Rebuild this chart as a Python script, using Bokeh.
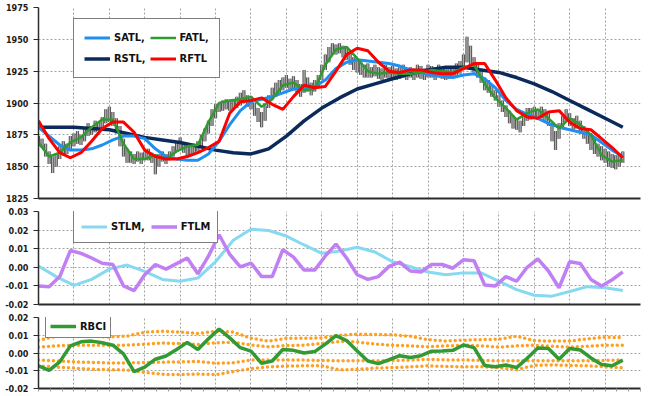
import numpy as np
from bokeh.plotting import figure
from bokeh.layouts import column
from bokeh.models import Range1d, FixedTicker, PrintfTickFormatter, Legend, LegendItem
from bokeh.embed import file_html
from bokeh.resources import INLINE

FONT = "DejaVu Sans Condensed"

# ---------------- data ----------------
# price bars (one per bar index)
price_high = [
    1874, 1872, 1868, 1862, 1858, 1860, 1866, 1870, 1868, 1874,
    1876, 1878, 1875, 1880, 1884, 1882, 1886, 1885, 1889, 1895,
    1897, 1893, 1888, 1882, 1872, 1864, 1862, 1860, 1862, 1861,
    1862, 1864, 1861, 1858, 1860, 1862, 1860, 1862, 1866, 1870,
    1873, 1869, 1867, 1866, 1868, 1870, 1875, 1880, 1886, 1895,
    1899, 1900, 1902, 1903, 1902, 1903, 1905, 1908, 1910, 1906,
    1905, 1900, 1896, 1893, 1898, 1906, 1912, 1916, 1918, 1920,
    1922, 1919, 1921, 1918, 1915, 1926, 1920, 1916, 1918, 1922,
    1930, 1938, 1944, 1947, 1946, 1947, 1945, 1944, 1940, 1936,
    1934, 1932, 1930, 1931, 1928, 1930, 1928, 1927, 1930, 1928,
    1929, 1927, 1928, 1930, 1927, 1928, 1927, 1930, 1929, 1927,
    1930, 1929, 1928, 1930, 1928, 1927, 1929, 1928, 1931, 1933,
    1938, 1952, 1945, 1936, 1932, 1926, 1920, 1918, 1914, 1910,
    1906, 1902, 1898, 1894, 1890, 1888, 1886, 1892, 1896, 1896,
    1897, 1895, 1897, 1895, 1892, 1884, 1878, 1884, 1890, 1895,
    1892, 1888, 1890, 1886, 1882, 1879, 1876, 1872, 1868, 1866,
    1864, 1862, 1860, 1859, 1860, 1862]
price_low = [
    1866, 1865, 1858, 1852, 1845, 1850, 1856, 1859, 1860, 1863,
    1866, 1868, 1867, 1870, 1874, 1875, 1877, 1879, 1880, 1884,
    1885, 1882, 1876, 1866, 1858, 1853, 1853, 1852, 1854, 1852,
    1855, 1855, 1853, 1844, 1850, 1854, 1852, 1855, 1858, 1862,
    1864, 1861, 1858, 1859, 1860, 1862, 1865, 1870, 1876, 1882,
    1888, 1893, 1894, 1895, 1894, 1895, 1896, 1898, 1900, 1897,
    1895, 1890, 1885, 1881, 1886, 1896, 1903, 1905, 1908, 1910,
    1912, 1911, 1910, 1908, 1905, 1908, 1909, 1906, 1909, 1912,
    1918, 1926, 1932, 1938, 1938, 1939, 1936, 1934, 1930, 1926,
    1924, 1922, 1920, 1920, 1920, 1921, 1919, 1918, 1920, 1919,
    1919, 1918, 1919, 1920, 1918, 1920, 1918, 1920, 1919, 1918,
    1920, 1920, 1918, 1920, 1919, 1918, 1919, 1920, 1921, 1923,
    1926, 1932, 1930, 1924, 1920, 1916, 1910, 1908, 1905, 1902,
    1897, 1893, 1889, 1884, 1880, 1879, 1877, 1882, 1886, 1887,
    1889, 1887, 1888, 1886, 1882, 1870, 1863, 1872, 1880, 1885,
    1882, 1879, 1880, 1876, 1872, 1868, 1863, 1860, 1858, 1855,
    1853, 1850, 1849, 1848, 1850, 1853]

# fast filters: one value every 3 bars
satl = [1881, 1874, 1867, 1863, 1863, 1864, 1867, 1871, 1874, 1874,
        1872, 1864, 1858, 1856, 1855, 1855, 1860, 1870, 1883, 1894,
        1901, 1903, 1905, 1908, 1911, 1912, 1913, 1918, 1927, 1932,
        1934, 1933, 1932, 1931, 1929, 1926, 1924, 1922, 1921, 1920,
        1922, 1923, 1919, 1912, 1902, 1895, 1891, 1888, 1884, 1881,
        1879, 1877, 1875, 1869, 1863, 1858]
fatl = [1869, 1858, 1861, 1869, 1873, 1881, 1887, 1887, 1868, 1856,
        1856, 1859, 1856, 1862, 1866, 1867, 1885, 1900, 1902, 1903,
        1905, 1897, 1903, 1914, 1916, 1910, 1911, 1930, 1942, 1944,
        1935, 1925, 1923, 1924, 1923, 1923, 1924, 1926, 1925, 1924,
        1928, 1930, 1915, 1904, 1896, 1887, 1892, 1895, 1888, 1880,
        1888, 1883, 1875, 1859, 1854, 1855]
rftl = [1886, 1872, 1861, 1857, 1861, 1870, 1880, 1885, 1885, 1877,
        1863, 1858, 1856, 1856, 1858, 1861, 1865, 1870, 1892, 1901,
        1902, 1904, 1899, 1895, 1905, 1914, 1912, 1913, 1925, 1938,
        1943, 1941, 1932, 1925, 1924, 1926, 1926, 1924, 1923, 1923,
        1927, 1931, 1931, 1918, 1904, 1894, 1889, 1888, 1893, 1894,
        1885, 1880, 1879, 1872, 1865, 1857]
ftlm = [-0.0100, -0.0105, -0.0050, 0.0090, 0.0075, 0.0050, 0.0022, 0.0015, -0.0100, -0.0125,
        -0.0040, 0.0015, -0.0010, 0.0020, 0.0050, -0.0035, 0.0060, 0.0175, 0.0070, 0.0002,
        0.0023, -0.0050, -0.0050, 0.0095, 0.0055, -0.0015, -0.0015, 0.0061, 0.0125, 0.0050,
        -0.0040, -0.0065, -0.0050, 0.0005, 0.0028, -0.0020, -0.0025, 0.0015, 0.0015, -0.0005,
        0.0040, 0.0035, -0.0095, -0.0100, -0.0050, -0.0075, 0.0000, 0.0045, -0.0020, -0.0110,
        0.0030, 0.0020, -0.0065, -0.0100, -0.0067, -0.0025]
rbci = [-0.0072, -0.0098, -0.0050, 0.0040, 0.0063, 0.0067, 0.0058, 0.0044, -0.0005, -0.0105,
        -0.0080, -0.0035, -0.0017, 0.0020, 0.0060, 0.0020, 0.0080, 0.0135, 0.0085, 0.0030,
        0.0011, -0.0058, -0.0045, 0.0020, 0.0015, 0.0000, 0.0008, 0.0050, 0.0098, 0.0070,
        0.0011, -0.0045, -0.0060, -0.0038, -0.0015, -0.0025, -0.0015, 0.0010, 0.0011, 0.0015,
        0.0045, 0.0030, -0.0070, -0.0078, -0.0068, -0.0082, -0.0030, 0.0028, 0.0025, -0.0035,
        0.0025, 0.0017, -0.0028, -0.0065, -0.0072, -0.0040]

# slow filters / bands: one value every 5 bars
rstl = [1881, 1881, 1881, 1880, 1879, 1876, 1873, 1871, 1869, 1866,
        1863, 1861, 1860, 1864, 1874, 1886, 1896, 1904, 1911, 1915,
        1919, 1923, 1926, 1928, 1928, 1926, 1924, 1920, 1915, 1909,
        1902, 1895, 1888, 1881]
stlm = [0.0007, -0.0050, -0.0097, -0.0065, -0.0010, 0.0012, -0.0022, -0.0065, -0.0075, -0.0058,
        0.0030, 0.0145, 0.0205, 0.0198, 0.0168, 0.0120, 0.0075, 0.0087, 0.0108, 0.0082,
        0.0030, 0.0003, -0.0025, -0.0040, -0.0030, -0.0030, -0.0075, -0.0120, -0.0150, -0.0155,
        -0.0130, -0.0104, -0.0110, -0.0125]
band_up2 = [0.0072, 0.0094, 0.0094, 0.0094, 0.0090, 0.0095, 0.0117, 0.0122, 0.0118, 0.0110,
            0.0122, 0.0118, 0.0083, 0.0067, 0.0083, 0.0083, 0.0085, 0.0100, 0.0106, 0.0104,
            0.0103, 0.0094, 0.0075, 0.0068, 0.0072, 0.0075, 0.0078, 0.0094, 0.0070, 0.0067,
            0.0067, 0.0080, 0.0089, 0.0087]
band_up1 = [0.0033, 0.0040, 0.0044, 0.0044, 0.0044, 0.0044, 0.0050, 0.0056, 0.0053, 0.0048,
            0.0058, 0.0060, 0.0045, 0.0035, 0.0042, 0.0044, 0.0055, 0.0065, 0.0062, 0.0050,
            0.0044, 0.0040, 0.0035, 0.0040, 0.0044, 0.0040, 0.0033, 0.0040, 0.0044, 0.0038,
            0.0033, 0.0038, 0.0044, 0.0044]
band_lo1 = [-0.0039, -0.0045, -0.0050, -0.0053, -0.0056, -0.0056, -0.0054, -0.0052, -0.0050, -0.0047,
            -0.0058, -0.0055, -0.0040, -0.0039, -0.0039, -0.0040, -0.0042, -0.0044, -0.0044, -0.0044,
            -0.0043, -0.0040, -0.0036, -0.0039, -0.0039, -0.0042, -0.0044, -0.0044, -0.0044, -0.0044,
            -0.0044, -0.0044, -0.0042, -0.0039]
band_lo2 = [-0.0072, -0.0080, -0.0085, -0.0092, -0.0094, -0.0096, -0.0110, -0.0120, -0.0122, -0.0118,
            -0.0122, -0.0105, -0.0088, -0.0078, -0.0074, -0.0072, -0.0072, -0.0095, -0.0092, -0.0085,
            -0.0082, -0.0078, -0.0072, -0.0076, -0.0078, -0.0078, -0.0082, -0.0094, -0.0070, -0.0067,
            -0.0070, -0.0072, -0.0078, -0.0083]

FAST_STEP = 3
SLOW_STEP = 5
x_ticks = list(range(0, 171, 10))
x_minor_ticks = [k * 10 / 3 for k in range(52)]
price_ticks = [1825, 1850, 1875, 1900, 1925, 1950, 1975]
stlm_ticks = [-0.02, -0.01, 0.0, 0.01, 0.02, 0.03]
rbci_ticks = [-0.02, -0.01, 0.0, 0.01, 0.02]

bar_x = np.arange(len(price_high))
fast_x = np.arange(len(satl)) * FAST_STEP
slow_x = np.arange(len(rstl)) * SLOW_STEP

# ---------------- figures ----------------
xr = Range1d(0, 170)


def panel(height, yticks, bt, bb, fmt, minor=False):
    p = figure(width=644, height=height, x_range=xr,
               y_range=Range1d(yticks[0], yticks[-1]),
               output_backend="svg", toolbar_location=None,
               min_border_left=38, min_border_right=4,
               min_border_top=bt, min_border_bottom=bb)
    p.outline_line_color = None
    p.background_fill_color = "white"
    p.border_fill_color = "white"
    ax = p.xaxis[0]
    ax.ticker = FixedTicker(ticks=[], minor_ticks=x_minor_ticks if minor else [])
    ax.major_label_standoff = 0
    ax.major_tick_out = 0
    ax.major_tick_in = 0
    ax.minor_tick_out = 3 if minor else 0
    ax.minor_tick_in = 0
    ax.minor_tick_line_color = "#9a9a9a"
    ax.axis_line_color = "#2b2b2b"
    ax.axis_line_width = 2
    ay = p.yaxis[0]
    ay.ticker = FixedTicker(ticks=yticks)
    if fmt:
        ay.formatter = PrintfTickFormatter(format=fmt)
    ay.major_label_text_font = FONT
    ay.major_label_text_font_style = "bold"
    ay.major_label_text_font_size = "9px"
    ay.major_label_text_color = "#1a1a1a"
    ay.major_label_standoff = 5
    ay.major_tick_out = 5
    ay.major_tick_in = 0
    ay.minor_tick_out = 0
    ay.minor_tick_in = 0
    ay.major_tick_line_color = "#2b2b2b"
    ay.axis_line_color = "#2b2b2b"
    ay.axis_line_width = 1.5
    for g, t in ((p.xgrid[0], x_ticks), (p.ygrid[0], yticks)):
        g.ticker = FixedTicker(ticks=t)
        g.grid_line_color = "#a3a3a3"
        g.grid_line_dash = "2 2"
        g.grid_line_width = 1
    return p


def style_legend(leg, size, pad, gh, sp):
    leg.label_text_font = FONT
    leg.label_text_font_style = "bold"
    leg.label_text_font_size = size
    leg.label_text_color = "#111111"
    leg.label_standoff = 4
    leg.glyph_width = 26
    leg.glyph_height = gh
    leg.label_height = gh
    leg.padding = pad
    leg.spacing = sp
    leg.margin = 0
    leg.border_line_color = "black"
    leg.border_line_width = 1.5
    leg.background_fill_color = "white"
    leg.background_fill_alpha = 1


# top: price + filters (frame 7..198)
p1 = panel(204, price_ticks, 7, 6, None)
p1.segment(x0=bar_x, y0=price_low, x1=bar_x, y1=price_high,
           line_color="#4a4a4a", line_width=3.2)
p1.segment(x0=bar_x, y0=price_low, x1=bar_x, y1=price_high,
           line_color="#b0b0b0", line_width=1.4)
r_rstl = p1.line(slow_x, rstl, line_color="#0b2a5b", line_width=3.5)
r_satl = p1.line(fast_x, satl, line_color="#1f8ff0", line_width=3)
r_fatl = p1.line(fast_x, fatl, line_color="#2f9a2f", line_width=2.5)
r_rftl = p1.line(fast_x, rftl, line_color="#ff0000", line_width=3)
leg1 = Legend(items=[LegendItem(label="SATL,", renderers=[r_satl]),
                     LegendItem(label="FATL,", renderers=[r_fatl]),
                     LegendItem(label="RSTL,", renderers=[r_rstl]),
                     LegendItem(label="RFTL", renderers=[r_rftl])],
              location=(35, 120), orientation="horizontal", nrows=2)
style_legend(leg1, "11px", 10, 17, 4)
p1.add_layout(leg1)

# middle: STLM / FTLM (frame 211..304)
p2 = panel(106, stlm_ticks, 7, 6, "%.2f")
r_stlm = p2.line(slow_x, stlm, line_color="#86d9f0", line_width=3)
r_ftlm = p2.line(fast_x, ftlm, line_color="#c07ff2", line_width=3.5)
leg2 = Legend(items=[LegendItem(label="STLM,", renderers=[r_stlm]),
                     LegendItem(label="FTLM", renderers=[r_ftlm])],
              location=(35, 61), orientation="horizontal")
style_legend(leg2, "11px", 7, 17, 6)
p2.add_layout(leg2)

# bottom: RBCI with bands (frame 317..388)
p3 = panel(85, rbci_ticks, 7, 7, "%.2f", minor=True)
for band in (band_up2, band_up1, band_lo1, band_lo2):
    p3.line(slow_x, band, line_color="#ffa020", line_width=3.5,
            line_dash="0 5", line_cap="round")
r_rbci = p3.line(fast_x, rbci, line_color="#339933", line_width=3.5)
leg3 = Legend(items=[LegendItem(label="RBCI", renderers=[r_rbci])],
              location=(7, 50))
style_legend(leg3, "11px", 4, 14, 4)
p3.add_layout(leg3)

layout = column(p1, p2, p3, spacing=0)
open("out.html", "w").write(file_html(layout, INLINE))
